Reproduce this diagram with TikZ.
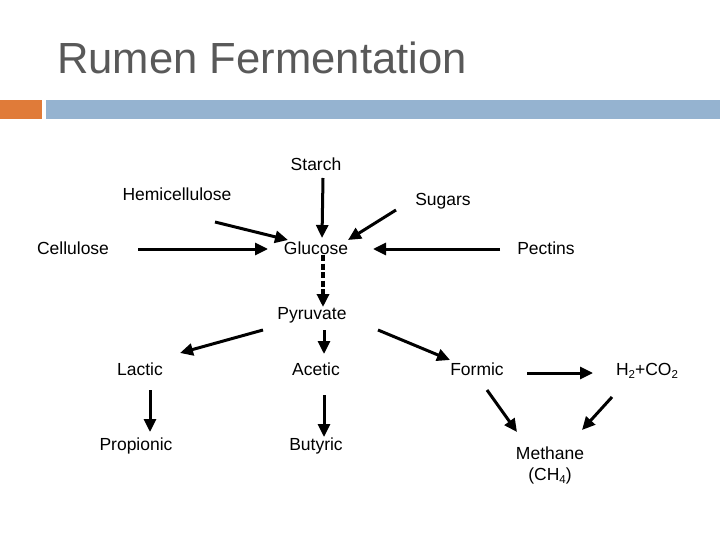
\documentclass[tikz,border=0pt]{standalone}
\usepackage{fontspec}
\setmainfont{Liberation Sans}
\usetikzlibrary{arrows.meta}
\definecolor{titlegray}{RGB}{89,89,89}
\definecolor{barorange}{RGB}{224,123,57}
\definecolor{barblue}{RGB}{149,179,208}
\newcommand{\lowsub}[1]{\raisebox{-0.35ex}{\fontsize{11.5}{12}\selectfont #1}}
\tikzset{
  lbl/.style={inner sep=0pt, font=\fontsize{17.5}{21}\selectfont, text=black},
  arr/.style={line width=3pt, -{Triangle[length=13pt,width=12pt]}},
  darr/.style={arr, dash pattern=on 6pt off 2.5pt, line width=3.5pt}
}
\begin{document}
\begin{tikzpicture}[x=1pt,y=-1pt]
\useasboundingbox (0,0) rectangle (720,540);
\node[anchor=base west, inner sep=0pt, text=titlegray, font=\fontsize{43.6}{50}\selectfont] (title) at (57,74) {Rumen Fermentation};
\fill[barorange] (0,100) rectangle (42,119);
\fill[barblue] (46,100) rectangle (720,119);

\node[lbl] (starch) at (316,164) {Starch};
\node[lbl] (hemi) at (177,194) {Hemicellulose};
\node[lbl] (sugars) at (443,201) {Sugars};
\node[lbl] (cell) at (73,248) {Cellulose};
\node[lbl] (glu) at (316,248) {Glucose};
\node[lbl] (pect) at (546,248) {Pectins};
\node[lbl] (pyr) at (312,315) {Pyruvate};
\node[lbl] (lac) at (140,369) {Lactic};
\node[lbl] (ace) at (316,369) {Acetic};
\node[lbl] (form) at (477,369) {Formic};
\node[lbl] (h2) at (647,371) {H\lowsub{2}+CO\lowsub{2}};
\node[lbl] (prop) at (136,446) {Propionic};
\node[lbl] (but) at (316,446) {Butyric};
\node[lbl, align=center] (meth) at (550,465) {Methane\\(CH\lowsub{4})};

\draw[arr] ([shift={(7,14)}]starch.center) -- ([shift={(6,-10)}]glu.center);
\draw[arr] ([shift={(38,28)}]hemi.center) -- ([shift={(-28,-8)}]glu.center);
\draw[arr] ([shift={(-47,9)}]sugars.center) -- ([shift={(32,-8)}]glu.center);
\draw[arr] ([shift={(65,1)}]cell.center) -- ([shift={(-48,1)}]glu.center);
\draw[arr] ([shift={(-46,1)}]pect.center) -- ([shift={(57,1)}]glu.center);
\draw[darr] ([shift={(7,7)}]glu.center) -- ([shift={(11,-8)}]pyr.center);
\draw[arr] ([shift={(-49,15)}]pyr.center) -- ([shift={(40,-16)}]lac.center);
\draw[arr] ([shift={(12,15)}]pyr.center) -- ([shift={(8,-15)}]ace.center);
\draw[arr] ([shift={(66,15)}]pyr.center) -- ([shift={(-27,-9)}]form.center);
\draw[arr] ([shift={(50,4)}]form.center) -- ([shift={(-54,2)}]h2.center);
\draw[arr] ([shift={(10,21)}]form.center) -- ([shift={(-33,-33)}]meth.center);
\draw[arr] ([shift={(-35,26)}]h2.center) -- ([shift={(32,-35)}]meth.center);
\draw[arr] ([shift={(10,21)}]lac.center) -- ([shift={(14,-14)}]prop.center);
\draw[arr] ([shift={(8,26)}]ace.center) -- ([shift={(8,-9)}]but.center);
\end{tikzpicture}
\end{document}
